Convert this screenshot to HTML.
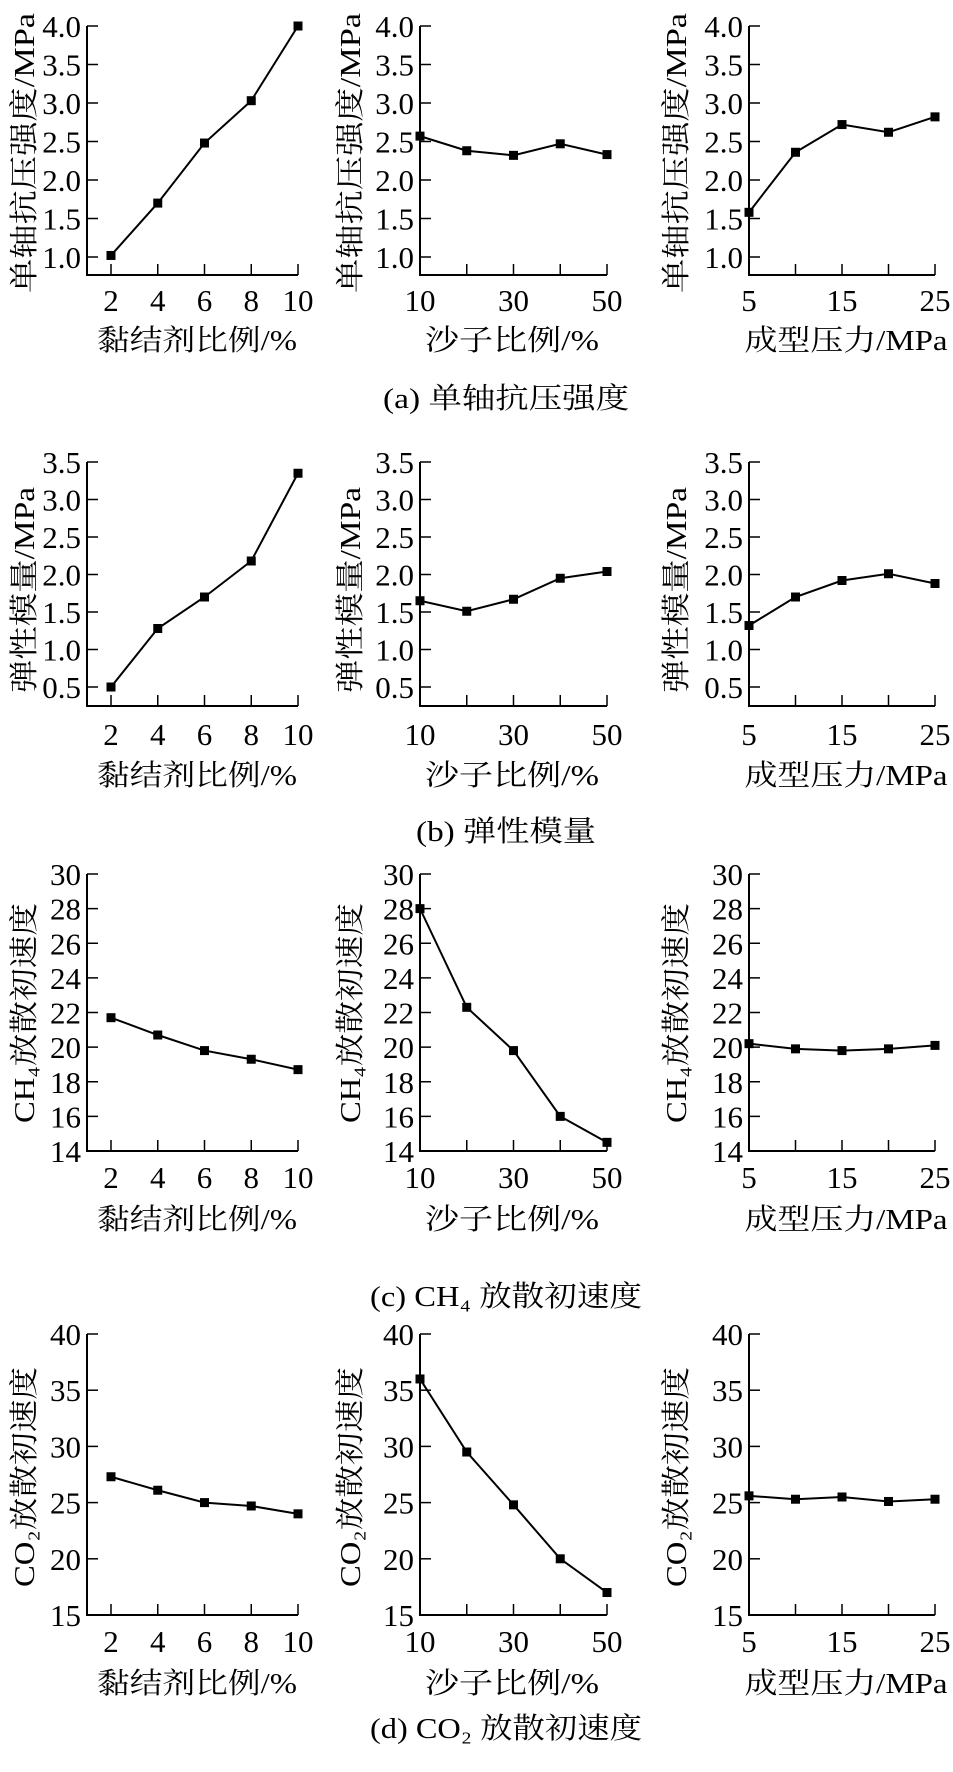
<!DOCTYPE html>
<html><head><meta charset="utf-8"><style>
html,body{margin:0;padding:0;background:#fff}
svg{display:block}
text{fill:#000}
.tk{font-family:"Liberation Serif","Noto Serif CJK SC",serif;font-size:31px}
.lb{font-family:"Liberation Serif","Noto Serif CJK SC",serif;font-size:29px}
</style></head><body>
<svg id="chart" width="953" height="1772" viewBox="0 0 953 1772" xmlns="http://www.w3.org/2000/svg"></svg>
<script>
// x categories
const xBinder = [2,4,6,8,10];
const xSand = [10,20,30,40,50];
const xPress = [5,10,15,20,25];
// series values
const ucsBinder = [1.02,1.70,2.48,3.03,4.0];
const ucsSand = [2.57,2.38,2.32,2.47,2.33];
const ucsPress = [1.58,2.36,2.72,2.62,2.82];
const emBinder = [0.5,1.28,1.70,2.18,3.35];
const emSand = [1.65,1.51,1.67,1.95,2.04];
const emPress = [1.32,1.70,1.92,2.01,1.88];
const ch4Binder = [21.7,20.7,19.8,19.3,18.7];
const ch4Sand = [28.0,22.3,19.8,16.0,14.5];
const ch4Press = [20.2,19.9,19.8,19.9,20.1];
const co2Binder = [27.3,26.1,25.0,24.7,24.0];
const co2Sand = [36.0,29.5,24.8,20.0,17.0];
const co2Press = [25.6,25.3,25.5,25.1,25.3];
// tick labels
const yTicksA = ["1.0","1.5","2.0","2.5","3.0","3.5","4.0"];
const yTicksB = ["0.5","1.0","1.5","2.0","2.5","3.0","3.5"];
const yTicksC = ["14","16","18","20","22","24","26","28","30"];
const yTicksD = ["15","20","25","30","35","40"];
const xTicksBinder = ["2","4","6","8","10"];
const xTicksSand = ["10","30","50"];
const xTicksPress = ["5","15","25"];

const NS="http://www.w3.org/2000/svg";
const svg=document.getElementById('chart');
function mk(tag,attrs,parent){const e=document.createElementNS(NS,tag);for(const k in attrs)e.setAttribute(k,attrs[k]);(parent||svg).appendChild(e);return e;}

const cols=[
 {ax:87, x0:111, x1:298, dmin:2, dmax:10, cats:xBinder, ticks:xTicksBinder, tickAll:xBinder, xl:"黏结剂比例/%", xlc:197, xlw:200, ylx:24},
 {ax:420, x0:420, x1:607, dmin:10, dmax:50, cats:xSand, ticks:xTicksSand, tickAll:xSand, xl:"沙子比例/%", xlc:512, xlw:174, ylx:350},
 {ax:749, x0:749, x1:935, dmin:5, dmax:25, cats:xPress, ticks:xTicksPress, tickAll:xPress, xl:"成型压力/MPa", xlc:846, xlw:203, ylx:676}
];
const rows=[
 {name:'ucs', yTop:26, yBot0:257, vTop:4.0, vBot:1.0, axBot:275, ticks:yTicksA, series:[ucsBinder,ucsSand,ucsPress], yl:"单轴抗压强度/MPa", ylc:153, ylw:280, tkY:300, xlY:340, cap:"(a) 单轴抗压强度", capY:398, capW:246},
 {name:'em', yTop:462, yBot0:687, vTop:3.5, vBot:0.5, axBot:706, ticks:yTicksB, series:[emBinder,emSand,emPress], yl:"弹性模量/MPa", ylc:590, ylw:206, tkY:734, xlY:775, cap:"(b) 弹性模量", capY:831, capW:180},
 {name:'ch4', yTop:874, yBot0:1151, vTop:30, vBot:14, axBot:1151, ticks:yTicksC, series:[ch4Binder,ch4Sand,ch4Press], yl:"CH₄放散初速度", ylc:1013, ylw:220, tkY:1177, xlY:1219, cap:"(c) CH₄ 放散初速度", capY:1296, capW:272},
 {name:'co2', yTop:1334, yBot0:1615, vTop:40, vBot:15, axBot:1615, ticks:yTicksD, series:[co2Binder,co2Sand,co2Press], yl:"CO₂放散初速度", ylc:1477, ylw:220, tkY:1641, xlY:1683, cap:"(d) CO₂ 放散初速度", capY:1728, capW:272}
];

rows.forEach((r,ri)=>{
  const yScale=v=>r.yBot0+(v-r.vBot)*(r.yTop-r.yBot0)/(r.vTop-r.vBot);
  cols.forEach((c,ci)=>{
    const xScale=v=>c.x0+(v-c.dmin)*(c.x1-c.x0)/(c.dmax-c.dmin);
    const g=mk('g',{});
    
    
    // axes
    const axes=mk('path',{d:`M${c.ax},${r.yTop}V${r.axBot}H${c.x1}`,fill:'none',stroke:'#000','stroke-width':2},g);
    
    
    // y ticks
    r.ticks.forEach(t=>{
      const y=yScale(parseFloat(t));
      const tl=mk('line',{x1:c.ax,x2:c.ax+11,y1:y,y2:y,stroke:'#000','stroke-width':1.5},g);
      
      
      const tx=mk('text',{class:'tk',x:c.ax-6,y:y+11,'text-anchor':'end'},g);
      tx.textContent=t;
      
      
    });
    // x ticks
    c.tickAll.forEach(v=>{
      const x=xScale(v);
      const tl=mk('line',{x1:x,x2:x,y1:r.axBot,y2:r.axBot-11,stroke:'#000','stroke-width':1.5},g);
      
      
    });
    c.ticks.forEach(t=>{
      const tx=mk('text',{class:'tk',x:xScale(parseFloat(t)),y:r.tkY+11,'text-anchor':'middle'},g);
      tx.textContent=t;
      
      
    });
    // x label
    const xl=mk('text',{class:'lb',x:c.xlc,y:r.xlY+10,'text-anchor':'middle',textLength:c.xlw,lengthAdjust:'spacingAndGlyphs'},g);
    xl.textContent=c.xl;
    
    
    // y label
    const yl=mk('text',{class:'lb',x:0,y:0,'text-anchor':'middle',textLength:r.ylw,lengthAdjust:'spacingAndGlyphs',transform:`translate(${c.ylx+10},${r.ylc}) rotate(-90)`},g);
    yl.textContent=r.yl;
    
    
    // series
    const vals=r.series[ci];
    const pts=vals.map((v,i)=>[xScale(c.cats[i]),yScale(v)]);
    const ln=mk('polyline',{points:pts.map(p=>p.join(',')).join(' '),fill:'none',stroke:'#000','stroke-width':2},g);
    
    
    pts.forEach(p=>{
      const m=mk('rect',{x:p[0]-4.5,y:p[1]-4.5,width:9,height:9,fill:'#000'},g);
      
      
    });
  });
  const cap=mk('text',{class:'lb',x:506,y:r.capY+10,'text-anchor':'middle',textLength:r.capW,lengthAdjust:'spacingAndGlyphs'});
  cap.textContent=r.cap;
  
  
});
</script>
</body></html>
